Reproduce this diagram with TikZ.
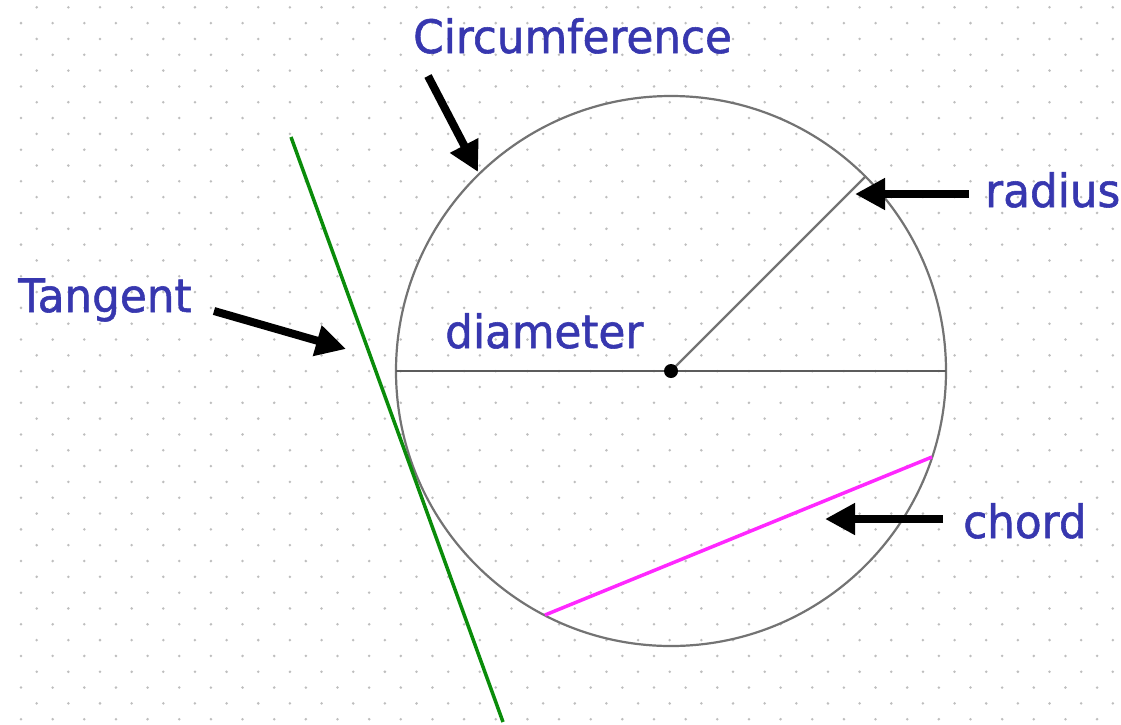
\documentclass[tikz,border=0pt]{standalone}
\usepackage{fontspec}
\setmainfont{DejaVu Sans}[FakeStretch=0.95,FakeBold=1.2]
\usetikzlibrary{arrows.meta}
\definecolor{lblblue}{RGB}{55,55,175}
\definecolor{dotgray}{RGB}{190,190,190}
\definecolor{circgray}{RGB}{115,115,115}
\definecolor{tangreen}{RGB}{10,140,10}
\definecolor{chordmag}{RGB}{255,40,255}
\tikzset{
  lbl/.style={anchor=base west, inner sep=0pt, text=lblblue, font=\fontsize{46}{50}\selectfont},
  pointer/.style={line width=8pt, black, -{Triangle[length=30pt,width=30pt]}, shorten >=0pt},
  thinline/.style={line width=2.2pt, circgray},
}
\begin{document}
\begin{tikzpicture}[x=1pt,y=-1pt]
\useasboundingbox (0,0) rectangle (1121,724);
\fill[white] (0,0) rectangle (1121,724);
% dot grid
\foreach \k in {0,...,45}{
  \pgfmathsetmacro{\yy}{7.3+15.82*\k}
  \pgfmathsetmacro{\xoff}{mod(\k,2)==0 ? 36.7 : 21}
  \foreach \j in {0,...,35}{
    \fill[dotgray] ({\xoff+31.65*\j},\yy) circle (1.4);
  }
}
% circle and lines
\coordinate (O) at (671,371);
\draw[thinline] (O) circle (275);
\coordinate (dl) at (396,371);
\coordinate (dr) at (946,371);
\draw[thinline, circgray!80!black] (dl) -- (dr);
\coordinate (rp) at (866,176);
\draw[thinline] (O) -- (rp);
\fill[black] (O) circle (7);
% tangent
\coordinate (t1) at (291,137);
\coordinate (t2) at (503,722);
\draw[tangreen, line width=3.5pt] (t1) -- (t2);
% chord
\coordinate (c1) at (545,615);
\coordinate (c2) at (932,457);
\draw[chordmag, line width=3.5pt] (c1) -- (c2);
% labels
\node[lbl] (circ) at (413,53) {Circumference};
\node[lbl] (rad) at (985,207) {radius};
\node[lbl] (tan) at (18,312) {Tangent};
\node[lbl] (dia) at (445,348) {diameter};
\node[lbl] (cho) at (963,538) {chord};
% pointers
\coordinate (a1s) at (428,76);
\coordinate (a1e) at (478,172);
\draw[pointer] (a1s) -- (a1e);
\coordinate (a2s) at (969,194);
\coordinate (a2e) at (855,194);
\draw[pointer] (a2s) -- (a2e);
\coordinate (a3s) at (214,311);
\coordinate (a3e) at (346,349);
\draw[pointer] (a3s) -- (a3e);
\coordinate (a4s) at (943,519);
\coordinate (a4e) at (825,519);
\draw[pointer] (a4s) -- (a4e);
\end{tikzpicture}
\end{document}
